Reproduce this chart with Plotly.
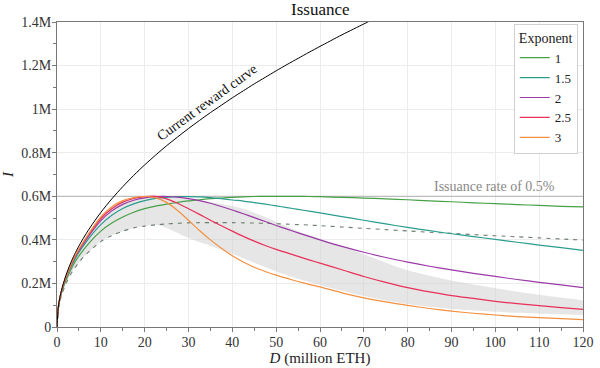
import plotly.graph_objects as go

# ---- data (values in million ETH / million ETH per year) ----
D = [0, 0.25, 0.5, 1, 2, 3, 4, 5, 6, 7.5, 10,
     12.5, 15, 17.5, 20, 22.5, 25, 27.5, 30, 32.5, 35, 37.5, 40, 42.5, 45, 47.5, 50, 52.5, 55, 57.5, 60,
     65, 70, 75, 80, 85, 90, 95, 100, 105, 110, 115, 120]

exp_1 = [0, .078, .11, .155, .212, .256, .295, .326, .353, .39, .44,
         .477, .505, .527, .543, .555, .564, .572, .579, .584, .589, .592, .595, .597, .599, .6, .6, .6, .6, .599, .598,
         .595, .592, .588, .584, .579, .575, .57, .566, .562, .558, .554, .551]
exp_1_5 = [0, .08, .114, .16, .222, .268, .308, .342, .372, .413, .47,
           .513, .544, .565, .58, .59, .595, .598, .598, .597, .594, .589, .583, .578, .571, .564, .556, .548, .54, .532, .524,
           .507, .49, .473, .457, .442, .428, .415, .402, .389, .376, .364, .352]
exp_2 = [0, .081, .115, .162, .225, .273, .316, .35, .381, .425, .488,
         .533, .563, .582, .593, .598, .599, .596, .589, .58, .568, .553, .537, .52, .502, .484, .466, .449, .432, .416, .40,
         .37, .343, .319, .298, .279, .262, .246, .232, .218, .205, .193, .181]
exp_2_5 = [0, .082, .116, .163, .227, .276, .320, .355, .387, .432, .498,
           .543, .573, .590, .598, .600, .588, .568, .543, .517, .49, .465, .44, .416, .394, .374, .356, .34, .324, .308, .293,
           .263, .232, .205, .181, .161, .144, .131, .118, .107, .098, .089, .081]
exp_3 = [0, .082, .116, .163, .228, .278, .322, .358, .39, .437, .505,
         .552, .580, .594, .599, .593, .572, .535, .49, .443, .40, .362, .327, .298, .274, .255, .238, .223, .209, .196, .184,
         .157, .134, .115, .099, .085, .073, .063, .055, .048, .043, .038, .034]
dashed = [0, .072, .102, .143, .197, .237, .27, .296, .32, .35, .392,
          .42, .44, .455, .463, .469, .473, .476, .478, .479, .479, .479, .479, .478, .477, .476, .474, .472, .47, .468, .465,
          .459, .453, .447, .441, .435, .43, .424, .419, .414, .409, .404, .399]
band_upper = [0, .082, .116, .163, .228, .278, .322, .358, .39, .437, .505,
              .552, .58, .594, .599, .6, .597, .593, .588, .582, .574, .565, .556, .542, .525, .505, .482, .461, .44, .422, .405,
              .372, .334, .295, .26, .235, .213, .195, .178, .162, .148, .135, .122]
band_lower = [0, .072, .102, .143, .197, .237, .27, .296, .32, .35, .392,
              .42, .44, .455, .463, .469, .455, .432, .41, .39, .373, .355, .336, .316, .295, .275, .255, .238, .222, .207, .193,
              .166, .142, .122, .106, .093, .083, .076, .07, .065, .061, .058, .055]

D_current = [0, 0.25, 0.5, 1, 2, 3, 4, 5, 6, 7.5, 10,
             12.5, 15, 17.5, 20, 22.5, 25, 27.5, 30, 32.5, 35, 37.5, 40, 42.5, 45, 47.5, 50, 52.5, 55, 57.5, 60,
             65, 70, 72]
current = [0, .083, .118, .166, .235, .288, .333, .372, .407, .455, .526,
           .588, .644, .696, .744, .789, .832, .872, .911, .948, .984, 1.018, 1.052, 1.084, 1.116, 1.146, 1.176, 1.205,
           1.233, 1.261, 1.288,
           1.341, 1.391, 1.411]

cap = 0.6
exponent_names = ["1", "1.5", "2", "2.5", "3"]
exponent_series = [exp_1, exp_1_5, exp_2, exp_2_5, exp_3]
colors = ["#46a046", "#2a9d8f", "#9b3aa6", "#e8305a", "#f39040"]

y_tickvals = [0, 0.2, 0.4, 0.6, 0.8, 1.0, 1.2, 1.4]
y_ticktext = ["0", "0.2M", "0.4M", "0.6M", "0.8M", "1M", "1.2M", "1.4M"]
x_tickvals = [0, 10, 20, 30, 40, 50, 60, 70, 80, 90, 100, 110, 120]

FONT = "Liberation Serif"
SPL = dict(shape="spline", smoothing=0.8)

fig = go.Figure()

# band
fig.add_trace(go.Scatter(x=D, y=band_lower, mode="lines", line=dict(width=0, **SPL),
                         showlegend=False, hoverinfo="skip"))
fig.add_trace(go.Scatter(x=D, y=band_upper, mode="lines", line=dict(width=0, **SPL),
                         fill="tonexty", fillcolor="rgba(205,205,205,0.5)",
                         showlegend=False, hoverinfo="skip"))

# cap line
fig.add_trace(go.Scatter(x=[0, 120], y=[cap, cap], mode="lines",
                         line=dict(color="#b0b0b0", width=1), showlegend=False, hoverinfo="skip"))

# dashed curve
fig.add_trace(go.Scatter(x=D, y=dashed, mode="lines",
                         line=dict(color="#6f7f6f", width=1.1, dash="4px,5px", **SPL),
                         showlegend=False))

for name, ser, col in zip(exponent_names, exponent_series, colors):
    fig.add_trace(go.Scatter(x=D, y=ser, mode="lines", name=name,
                             line=dict(color=col, width=1.2, **SPL)))

fig.add_trace(go.Scatter(x=D_current, y=current, mode="lines",
                         line=dict(color="black", width=1, **SPL),
                         showlegend=False))

axis_common = dict(
    automargin=False,
    showline=True, linecolor="#777", linewidth=1, mirror=True,
    ticks="outside", ticklen=4, tickcolor="#777", ticklabelstandoff=-2,
    showgrid=True, gridcolor="#ececec", gridwidth=1, zeroline=False,
    tickfont=dict(family=FONT, size=14, color="#333"),
)

fig.update_xaxes(range=[0, 120], tickmode="array", tickvals=x_tickvals,
                 minor=dict(tickmode="linear", tick0=0, dtick=5, ticks="outside", ticklen=3,
                            tickcolor="#777", showgrid=False),
                 title=dict(text="<i>D</i> (million ETH)", font=dict(family=FONT, size=15, color="#222"),
                            standoff=1),
                 **axis_common)
fig.update_yaxes(range=[0, 1.4], tickmode="array", tickvals=y_tickvals, ticktext=y_ticktext,
                 minor=dict(tickmode="linear", tick0=0, dtick=0.1, ticks="outside", ticklen=3,
                            tickcolor="#777", showgrid=False),
                 title=dict(text="<i>I</i>", font=dict(family=FONT, size=15, color="#222"), standoff=10),
                 **axis_common)

fig.add_annotation(x=0.5, y=1, xref="paper", yref="paper", yanchor="bottom", yshift=1,
                   text="Issuance", showarrow=False, font=dict(family=FONT, size=17, color="#111"))
fig.add_annotation(x=34.2, y=1.032, xref="x", yref="y", text="Current reward curve",
                   textangle=-36, showarrow=False, font=dict(family=FONT, size=14, color="#111"))
fig.add_annotation(x=99.8, y=cap, xref="x", yref="y", yanchor="bottom", yshift=0,
                   text="Issuance rate of 0.5%", showarrow=False,
                   font=dict(family=FONT, size=14, color="#888"))

fig.update_layout(
    width=600, height=368,
    margin=dict(l=57, r=17, t=22, b=41),
    paper_bgcolor="white", plot_bgcolor="white",
    font=dict(family=FONT),
    legend=dict(x=0.99, y=0.995, xanchor="right", yanchor="top", traceorder="normal",
                bgcolor="white", bordercolor="#d0d0d0", borderwidth=1,
                font=dict(family=FONT, size=13, color="#222"),
                title=dict(text="Exponent", side="top center", font=dict(family=FONT, size=14, color="#222")),
                tracegroupgap=0, itemwidth=30),
)

fig.write_html("out.html", config={"displayModeBar": False},
               post_script="document.body.style.margin='0px';document.body.style.overflow='hidden';")
